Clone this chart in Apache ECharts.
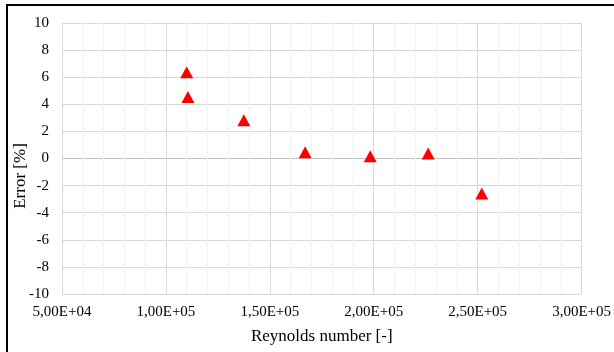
<!DOCTYPE html>
<html>
<head>
<meta charset="utf-8">
<script src="https://cdn.jsdelivr.net/npm/echarts@6/dist/echarts.min.js"></script>
<style>
  html, body { margin: 0; padding: 0; background: #fff; }
  #chart { width: 614px; height: 352px; }
</style>
</head>
<body>
<div id="chart"></div>
<script>
// Measured error against Reynolds number
const reynolds = [110000, 110600, 137500, 167000, 198300, 226200, 252000];
const errorPct = [6.37, 4.54, 2.82, 0.46, 0.16, 0.36, -2.58];

// Axis ranges and tick steps
const xTicks = [50000, 100000, 150000, 200000, 250000, 300000];
const yTicks = [-10, -8, -6, -4, -2, 0, 2, 4, 6, 8, 10];

const xTitle = 'Reynolds number [-]';
const yTitle = 'Error [%]';

const FONT = '"Liberation Serif", "Times New Roman", serif';

// Excel-style "5,00E+04"
function sciLabel(v) {
  const s = v.toExponential(2);          // "5.00e+4"
  const parts = s.split('e');
  const mant = parts[0].replace('.', ',');
  const sign = parts[1][0];
  let exp = parts[1].slice(1);
  if (exp.length < 2) exp = '0' + exp;
  return mant + 'E' + sign + exp;
}

// zero line a little darker than the other horizontal gridlines
const hLineColors = yTicks.map(v => v === 0 ? '#bfbfbf' : '#d9d9d9');

const chart = echarts.init(document.getElementById('chart'), null, { renderer: 'canvas' });
chart.setOption({
  animation: false,
  backgroundColor: '#fff',
  grid: { left: 62, top: 23, right: 30, bottom: 58, containLabel: false },
  xAxis: {
    type: 'value',
    min: xTicks[0],
    max: xTicks[xTicks.length - 1],
    interval: xTicks[1] - xTicks[0],
    name: xTitle,
    nameLocation: 'middle',
    nameGap: 34,
    nameTextStyle: { fontFamily: FONT, fontSize: 17, color: '#000' },
    axisLine: { show: false },
    axisTick: { show: false },
    axisLabel: { formatter: sciLabel, fontFamily: FONT, fontSize: 15, color: '#000', margin: 11 },
    splitLine: { show: true, lineStyle: { color: '#d9d9d9', width: 1 } },
    minorTick: { show: false, splitNumber: 5 },
    minorSplitLine: { show: true, lineStyle: { color: '#f2f2f2', width: 1 } }
  },
  yAxis: {
    type: 'value',
    min: yTicks[0],
    max: yTicks[yTicks.length - 1],
    interval: yTicks[1] - yTicks[0],
    axisLine: { show: false },
    axisTick: { show: false },
    axisLabel: { fontFamily: FONT, fontSize: 15, color: '#000', margin: 13 },
    splitLine: { show: true, lineStyle: { color: hLineColors, width: 1 } }
  },
  series: [{
    type: 'scatter',
    data: reynolds.map((x, i) => [x, errorPct[i]]),
    symbol: 'triangle',
    symbolSize: [13, 12],
    itemStyle: { color: '#ff0000', opacity: 1 }
  }],
  graphic: [{
    type: 'rect',
    shape: { x: 7, y: 5, width: 640, height: 400 },
    style: { fill: null, stroke: '#000', lineWidth: 2 },
    silent: true
  }, {
    type: 'text',
    x: 21,
    y: 176,
    rotation: Math.PI / 2,
    style: {
      text: yTitle,
      fontFamily: FONT,
      fontSize: 17,
      fill: '#000',
      textAlign: 'center',
      textVerticalAlign: 'middle'
    },
    silent: true
  }]
});
</script>
</body>
</html>
